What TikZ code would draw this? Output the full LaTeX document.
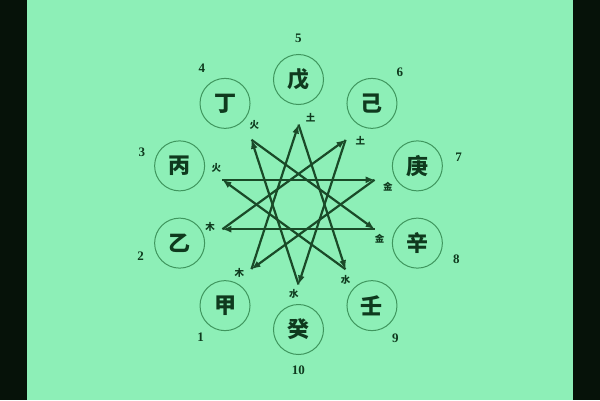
\documentclass[tikz,border=0pt]{standalone}
\usepackage{fontspec}
\newfontfamily\cjk{Noto Sans CJK SC}
\newfontfamily\numfont{Liberation Serif}
\usetikzlibrary{arrows.meta}
\definecolor{mint}{HTML}{8DEFB7}
\definecolor{edge}{HTML}{061209}
\definecolor{ring}{HTML}{3F965E}
\definecolor{ink}{HTML}{0F3A1E}
\definecolor{starline}{HTML}{1A4A28}
\tikzset{
	stem/.style={circle,draw=ring,line width=1pt,minimum size=50pt,inner sep=0pt,text=ink,font=\cjk\bfseries\fontsize{22}{22}\selectfont},
	num/.style={text=ink,inner sep=0pt,font=\numfont\bfseries\fontsize{13}{13}\selectfont},
	elem/.style={text=ink,inner sep=0pt,font=\cjk\bfseries\fontsize{9.5}{9.5}\selectfont},
	ke/.style={draw=starline,line width=2.2pt,-{Latex[length=9pt,width=7pt]}}
}
\begin{document}
\begin{tikzpicture}[x=1pt,y=1pt]
	\useasboundingbox (-298.5,-195.5) rectangle (301.5,204.5);
	\fill[edge] (-298.5,-195.5) rectangle (301.5,204.5);
	\fill[mint] (-271.5,-195.5) rectangle (274,204.5);
	% stems
	\node[stem](s1) at (234:125) {甲};
	\node[stem](s2) at (198:125) {乙};
	\node[stem](s3) at (162:125) {丙};
	\node[stem](s4) at (126:125) {丁};
	\node[stem](s5) at (90:125) {戊};
	\node[stem](s6) at (54:125) {己};
	\node[stem](s7) at (18:125) {庚};
	\node[stem](s8) at (-18:125) {辛};
	\node[stem](s9) at (-54:125) {壬};
	\node[stem](s10) at (-90:125) {癸};
	% numbers
	\node[num](n1) at (-126.4:165) {1};
	\node[num](n2) at (-162:166) {2};
	\node[num](n3) at (161.7:165) {3};
	\node[num](n4) at (125.4:167) {4};
	\node[num](n5) at (90:166) {5};
	\node[num](n6) at (52.6:167) {6};
	\node[num](n7) at (16.5:167) {7};
	\node[num](n8) at (-19:167) {8};
	\node[num](n9) at (-54:165) {9};
	\node[num](n10) at (-90:165.5) {10};
	% star points
	\coordinate(v1) at (234:80);
	\coordinate(v2) at (198:80);
	\coordinate(v3) at (162:80);
	\coordinate(v4) at (126:80);
	\coordinate(v5) at (90:80);
	\coordinate(v6) at (54:80);
	\coordinate(v7) at (18:80);
	\coordinate(v8) at (-18:80);
	\coordinate(v9) at (-54:80);
	\coordinate(v10) at (-90:80);
	% elements
	\node[elem](e1) at (-131:90) {木};
	\node[elem](e2) at (-166:91) {木};
	\node[elem](e3) at (156:90) {火};
	\node[elem](e4) at (119:91) {火};
	\node[elem](e5) at (82:88) {土};
	\node[elem](e6) at (46:89) {土};
	\node[elem](e7) at (11:91) {金};
	\node[elem](e8) at (-23:88) {金};
	\node[elem](e9) at (-58:89) {水};
	\node[elem](e10) at (-93:90) {水};
	% arrows
	\draw[ke] (v1) -- (v5);
	\draw[ke] (v5) -- (v9);
	\draw[ke] (v9) -- (v3);
	\draw[ke] (v3) -- (v7);
	\draw[ke] (v7) -- (v1);
	\draw[ke] (v2) -- (v6);
	\draw[ke] (v6) -- (v10);
	\draw[ke] (v10) -- (v4);
	\draw[ke] (v4) -- (v8);
	\draw[ke] (v8) -- (v2);
\end{tikzpicture}
\end{document}
